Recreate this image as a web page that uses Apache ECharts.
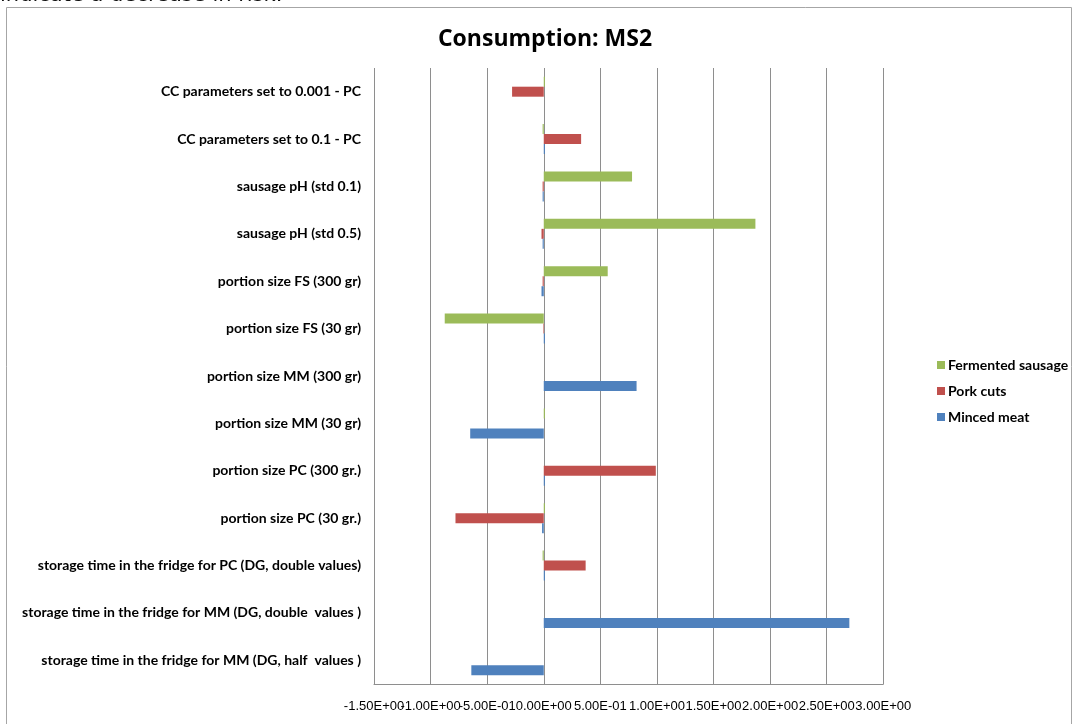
<!DOCTYPE html>
<html>
<head>
<meta charset="utf-8">
<script src="https://cdn.jsdelivr.net/npm/echarts@6/dist/echarts.min.js"></script>
<style>
  html, body { margin: 0; padding: 0; background: #fff; }
  #chart { width: 1075px; height: 724px; }
</style>
</head>
<body>
<div id="chart"></div>
<script>
// Scenarios, listed bottom-to-top as the category axis stacks them
const categories = [
  'storage time in the fridge for MM (DG, half  values )',
  'storage time in the fridge for MM (DG, double  values )',
  'storage time in the fridge for PC (DG, double values)',
  'portion size PC (30 gr.)',
  'portion size PC (300 gr.)',
  'portion size MM (30 gr)',
  'portion size MM (300 gr)',
  'portion size FS (30 gr)',
  'portion size FS (300 gr)',
  'sausage pH (std 0.5)',
  'sausage pH (std 0.1)',
  'CC parameters set to 0.1 - PC',
  'CC parameters set to 0.001 - PC'
];

// Relative change per product, same order as categories
const mincedMeat = [-0.64, 2.70, 0.01, -0.015, 0.01, -0.65, 0.82, 0.01, -0.02, -0.01, -0.01, 0.01, 0];
const porkCuts = [0, 0, 0.37, -0.78, 0.99, 0, 0, -0.005, -0.01, -0.02, -0.01, 0.33, -0.28];
const fermentedSausage = [0, 0, -0.01, 0.01, 0, 0.01, 0, -0.875, 0.565, 1.87, 0.78, -0.01, 0.01];

const axisMin = -1.5;
const axisMax = 3.0;
const axisStep = 0.5;
const tickLabels = ['-1.50E+00', '-1.00E+00', '-5.00E-01', '0.00E+00', '5.00E-01',
                    '1.00E+00', '1.50E+00', '2.00E+00', '2.50E+00', '3.00E+00'];

const colors = { minced: '#4F81BD', pork: '#C0504D', fermented: '#9BBB59' };
const gridGray = '#8e8e8e';
const labelFont = 'Lato, "Open Sans", sans-serif';

const chart = echarts.init(document.getElementById('chart'), null, { renderer: 'canvas' });

function barSeries(name, data, color) {
  return {
    name: name,
    type: 'bar',
    data: data,
    barWidth: 10,
    barGap: '0%',
    itemStyle: { color: color },
    emphasis: { disabled: true }
  };
}

// The tick labels are wider than the tick spacing, so they are split over two
// overlaid axes (even / odd ticks) to keep every label drawn.
function valueAxis(parity, primary) {
  return {
    type: 'value',
    position: 'bottom',
    min: axisMin,
    max: axisMax,
    interval: axisStep,
    axisLine: { show: primary, onZero: false, lineStyle: { color: gridGray, width: 1 } },
    axisTick: { show: false },
    splitLine: { show: primary, lineStyle: { color: gridGray, width: 1 } },
    axisLabel: {
      margin: 16,
      showMinLabel: true,
      showMaxLabel: true,
      fontFamily: '"Liberation Sans", Arial, sans-serif',
      fontSize: 13,
      color: '#000',
      formatter: function (v) {
        const i = Math.round((v - axisMin) / axisStep);
        return i % 2 === parity ? tickLabels[i] : '';
      }
    }
  };
}

chart.setOption({
  animation: false,
  backgroundColor: '#ffffff',
  graphic: [
    {
      type: 'rect',
      shape: { x: 6.5, y: 7.5, width: 1065, height: 730 },
      style: { fill: 'none', stroke: '#a6a6a6', lineWidth: 1 },
      silent: true,
      z: -1
    },
    {
      type: 'text',
      x: 0,
      y: 6,
      style: {
        text: 'indicate a decrease in risk.',
        font: '21px "DejaVu Sans", sans-serif',
        fill: '#111',
        verticalAlign: 'bottom'
      },
      silent: true
    }
  ],
  title: {
    text: 'Consumption: MS2',
    left: 540,
    top: 23,
    textAlign: 'center',
    textStyle: {
      fontFamily: '"Open Sans", "Noto Sans", sans-serif',
      fontWeight: 'bold',
      fontSize: 23,
      color: '#000'
    }
  },
  legend: {
    orient: 'vertical',
    left: 932,
    top: 353,
    itemWidth: 8,
    itemHeight: 8,
    itemGap: 12,
    icon: 'rect',
    data: ['Fermented sausage', 'Pork cuts', 'Minced meat'],
    textStyle: {
      fontFamily: labelFont,
      fontWeight: 'bold',
      fontSize: 14,
      color: '#000',
      padding: [0, 0, 0, -2]
    }
  },
  grid: {
    left: 374,
    right: 191.7,
    top: 68,
    bottom: 40,
    containLabel: false
  },
  xAxis: [valueAxis(0, true), valueAxis(1, false)],
  yAxis: {
    type: 'category',
    data: categories,
    axisLine: { show: false, onZero: false },
    axisTick: { show: false },
    splitLine: { show: false },
    axisLabel: {
      margin: 13,
      fontFamily: labelFont,
      fontWeight: 'bold',
      fontSize: 14,
      color: '#000'
    }
  },
  // Top-to-bottom within each scenario: fermented sausage, pork cuts, minced meat
  series: [
    barSeries('Fermented sausage', fermentedSausage, colors.fermented),
    barSeries('Pork cuts', porkCuts, colors.pork),
    barSeries('Minced meat', mincedMeat, colors.minced)
  ]
});
</script>
</body>
</html>
